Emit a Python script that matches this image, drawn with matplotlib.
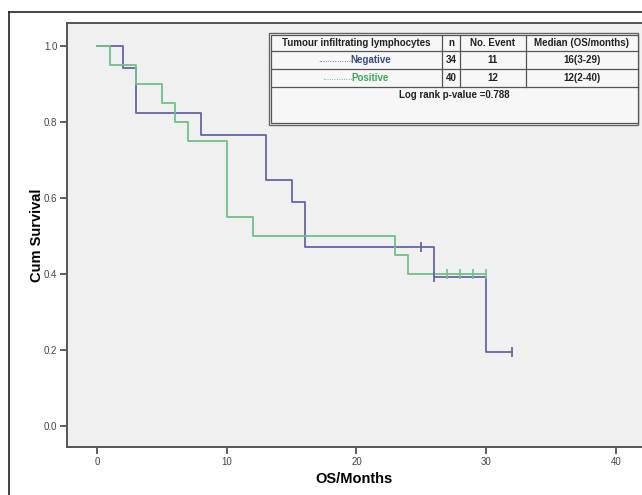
import matplotlib.pyplot as plt
from matplotlib.lines import Line2D
from matplotlib.patches import Rectangle

# --- Kaplan-Meier step data
neg_time = [0, 2, 3, 8, 13, 15, 16, 26, 30, 32]
neg_surv = [1.0, 0.941, 0.824, 0.765, 0.647, 0.588, 0.471, 0.392, 0.196, 0.196]
neg_cens_t = [25, 26, 32]
neg_cens_s = [0.471, 0.392, 0.196]

pos_time = [0, 1, 3, 5, 6, 7, 10, 12, 23, 24, 30]
pos_surv = [1.0, 0.95, 0.90, 0.85, 0.80, 0.75, 0.55, 0.50, 0.45, 0.40, 0.40]
pos_cens_t = [27, 28, 29, 30]
pos_cens_s = [0.40, 0.40, 0.40, 0.40]

xticks = [0, 10, 20, 30, 40]
yticks = [0.0, 0.2, 0.4, 0.6, 0.8, 1.0]

# legend table
header = ["Tumour infiltrating lymphocytes", "n", "No. Event", "Median (OS/months)"]
groups = ["Negative", "Positive"]
n_vals = ["34", "40"]
events = ["11", "12"]
medians = ["16(3-29)", "12(2-40)"]
pval_text = "Log rank p-value =0.788"

blue = "#6565a6"
green = "#72c088"
font = "Liberation Sans"

fig = plt.figure(figsize=(6.42, 4.95), dpi=100)
ax = fig.add_axes([67 / 642, 48 / 495, 575 / 642, 424 / 495])
ax.set_facecolor("#f0f0f0")

ax.step(neg_time, neg_surv, where="post", color=blue, lw=1.3)
ax.step(pos_time, pos_surv, where="post", color=green, lw=1.3)
ax.plot(neg_cens_t, neg_cens_s, ls="none", marker="|", ms=7, mew=1.3, color=blue)
ax.plot(pos_cens_t, pos_cens_s, ls="none", marker="|", ms=7, mew=1.2, color=green)

ax.set_xlim(-2.3, 42.0)
ax.set_ylim(-0.055, 1.06)
ax.set_xticks(xticks)
ax.set_xticklabels([str(t) for t in xticks], fontfamily=font, fontsize=7, color="#444444")
ax.set_yticks(yticks)
ax.set_yticklabels([f"{t:.1f}" for t in yticks], fontfamily=font, fontsize=7, color="#444444")
ax.tick_params(direction="out", length=5, width=1.2, color="#444444", pad=2)
for s in ["left", "top", "bottom"]:
    ax.spines[s].set_color("#555555")
    ax.spines[s].set_linewidth(1.4)
ax.spines["right"].set_visible(False)

ax.set_ylabel("Cum Survival", fontfamily=font, fontsize=10.5, fontweight="bold", labelpad=0)
ax.set_xlabel("OS/Months", fontfamily=font, fontsize=10.5, fontweight="bold", labelpad=4)

# --- overlay in pixel coordinates: outer frame + legend table
ov = fig.add_axes([0, 0, 1, 1], facecolor="none")
ov.set_xlim(0, 642)
ov.set_ylim(495, 0)
ov.axis("off")

ov.add_line(Line2D([9, 9], [12, 495], color="#222222", lw=1.2))
ov.add_line(Line2D([9, 642], [12, 12], color="#222222", lw=1.2))

x0, x1, x2, x3, x4 = 271, 442, 460, 526, 638
y0, y1, y2, y3, y4 = 35, 51, 69, 87, 123
ov.add_patch(Rectangle((x0 - 2, y0 - 2), x4 - x0 + 2, y4 - y0 + 4, fc="#f7f7f7", ec="#666666", lw=1.0))
ov.add_patch(Rectangle((x0, y0), x4 - x0, y4 - y0, fc="#f7f7f7", ec="#555555", lw=0.9))
for yy in [y1, y2, y3]:
    ov.add_line(Line2D([x0, x4], [yy, yy], color="#555555", lw=0.9))
for xx in [x1, x2, x3]:
    ov.add_line(Line2D([xx, xx], [y0, y3], color="#555555", lw=0.9))

cols = [(x0 + x1) / 2, (x1 + x2) / 2, (x2 + x3) / 2, (x3 + x4) / 2]
tkw = dict(fontfamily=font, fontsize=7, fontweight="bold", ha="center", va="center")
for c, h in zip(cols, header):
    ov.text(c, (y0 + y1) / 2, h, color="#222222", **tkw)

rows_y = [(y1 + y2) / 2, (y2 + y3) / 2]
row_colors = ["#3a4a8a", "#3aa85a"]
dots = ["...............", "............."]
for i in range(2):
    ov.text(cols[0] + 14, rows_y[i], groups[i], color=row_colors[i], **tkw)
    ov.text(cols[0] - 3, rows_y[i] + 1, dots[i], color=row_colors[i],
            fontfamily=font, fontsize=6, ha="right", va="center")
    ov.text(cols[1], rows_y[i], n_vals[i], color="#222222", **tkw)
    ov.text(cols[2], rows_y[i], events[i], color="#222222", **tkw)
    ov.text(cols[3], rows_y[i], medians[i], color="#222222", **tkw)
ov.text((x0 + x4) / 2, y3 + 8, pval_text, color="#222222", **tkw)

fig.savefig("out.png", dpi=100, facecolor="white")
